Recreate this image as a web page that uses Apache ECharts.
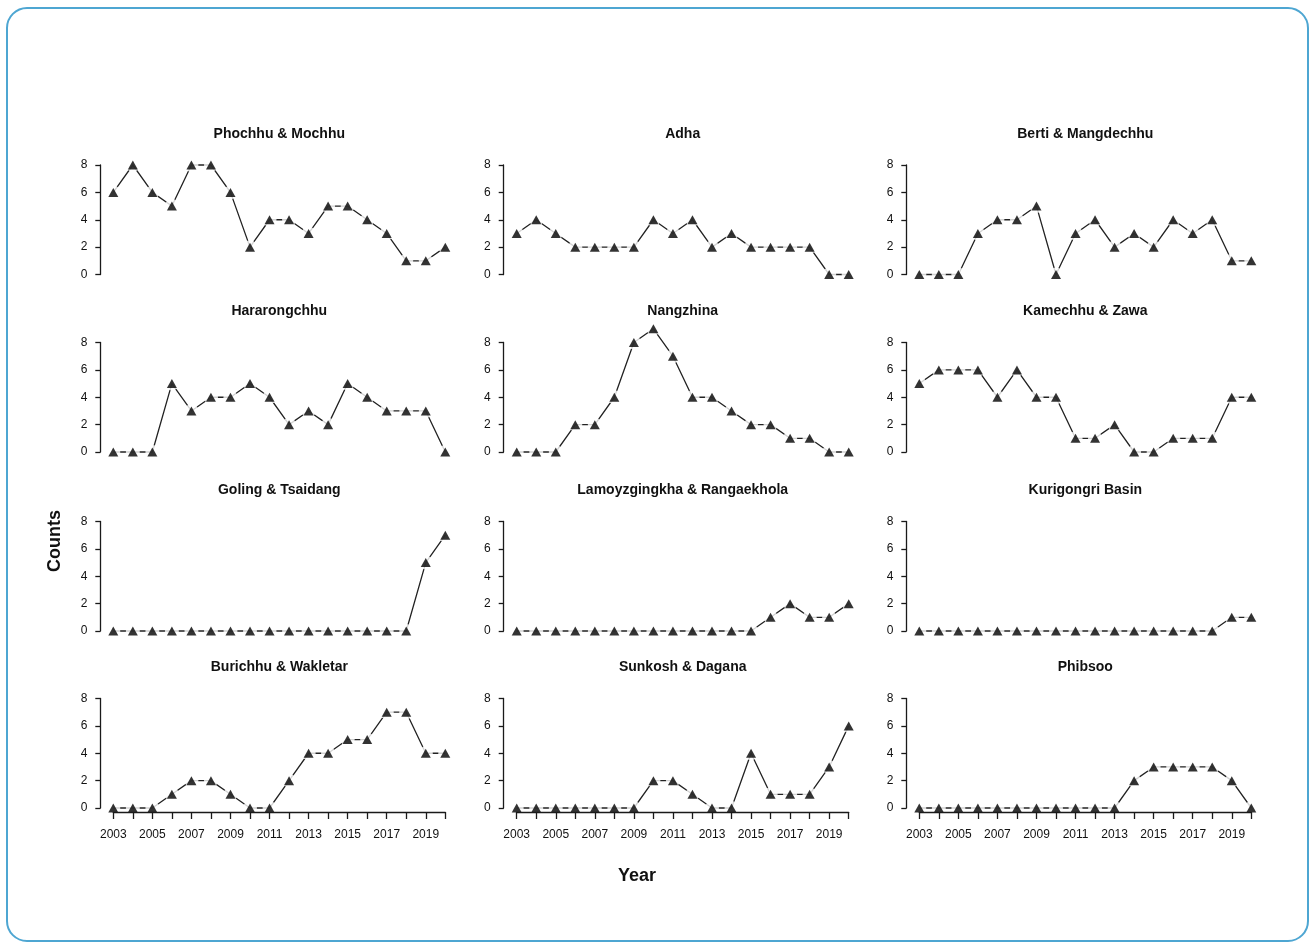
<!DOCTYPE html>
<html>
<head>
<meta charset="utf-8">
<script src="https://cdn.jsdelivr.net/npm/echarts@6/dist/echarts.min.js"></script>
<style>
html,body{margin:0;padding:0;background:#fff;}
#chart{width:1316px;height:949px;}
</style>
</head>
<body>
<div id="chart"></div>
<script>
// ---- Data ----
const years = [2003,2004,2005,2006,2007,2008,2009,2010,2011,2012,2013,2014,2015,2016,2017,2018,2019,2020];
const yTicks = [0,2,4,6,8];
const xLabelYears = [2003,2005,2007,2009,2011,2013,2015,2017,2019];

const phochhuMochhu   = [6,8,6,5,8,8,6,2,4,4,3,5,5,4,3,1,1,2];
const adha            = [3,4,3,2,2,2,2,4,3,4,2,3,2,2,2,2,0,0];
const bertiMangdechhu = [0,0,0,3,4,4,5,0,3,4,2,3,2,4,3,4,1,1];
const hararongchhu    = [0,0,0,5,3,4,4,5,4,2,3,2,5,4,3,3,3,0];
const nangzhina       = [0,0,0,2,2,4,8,9,7,4,4,3,2,2,1,1,0,0];
const kamechhuZawa    = [5,6,6,6,4,6,4,4,1,1,2,0,0,1,1,1,4,4];
const golingTsaidang  = [0,0,0,0,0,0,0,0,0,0,0,0,0,0,0,0,5,7];
const lamoyRangaekhola= [0,0,0,0,0,0,0,0,0,0,0,0,0,1,2,1,1,2];
const kurigongri      = [0,0,0,0,0,0,0,0,0,0,0,0,0,0,0,0,1,1];
const burichhuWakletar= [0,0,0,1,2,2,1,0,0,2,4,4,5,5,7,7,4,4];
const sunkoshDagana   = [0,0,0,0,0,0,0,2,2,1,0,0,4,1,1,1,3,6];
const phibsoo         = [0,0,0,0,0,0,0,0,0,0,0,2,3,3,3,3,2,0];

const panelTitles = ['Phochhu & Mochhu','Adha','Berti & Mangdechhu',
  'Hararongchhu','Nangzhina','Kamechhu & Zawa',
  'Goling & Tsaidang','Lamoyzgingkha & Rangaekhola','Kurigongri Basin',
  'Burichhu & Wakletar','Sunkosh & Dagana','Phibsoo'];
const panelData = [phochhuMochhu, adha, bertiMangdechhu,
  hararongchhu, nangzhina, kamechhuZawa,
  golingTsaidang, lamoyRangaekhola, kurigongri,
  burichhuWakletar, sunkoshDagana, phibsoo];

// ---- Layout ----
const colLeft = [113.3, 516.7, 919.3];
const plotW = 332;
const rowTop = [165, 342.5, 521.5, 698.5];
const plotH = 109.5;
const FONT = '"Liberation Sans", Arial, sans-serif';
const INK = '#1a1a1a';

const grids = [], xAxes = [], yAxes = [], series = [], graphics = [];

graphics.push({
  type:'rect', shape:{x:7,y:8,width:1301,height:933,r:20},
  style:{fill:'none', stroke:'#4ea6d2', lineWidth:2}, z:-1
});

panelData.forEach((vals, i) => {
  const r = Math.floor(i/3), c = i%3;
  const bottomRow = r === 3;
  grids.push({left: colLeft[c], top: rowTop[r], width: plotW, height: plotH, containLabel:false});
  xAxes.push({
    gridIndex:i, type:'value', min:years[0], max:years[years.length-1], interval:1,
    show: bottomRow, offset:4, z:6,
    axisLine:{show:true, onZero:false, lineStyle:{color:INK, width:1.3}},
    axisTick:{show:true, length:7, lineStyle:{color:INK, width:1.3}},
    splitLine:{show:false},
    axisLabel:{show:true, margin:17, color:'#111', fontFamily:FONT, fontSize:12,
      formatter: v => xLabelYears.indexOf(v) >= 0 ? String(v) : ''}
  });
  yAxes.push({
    gridIndex:i, type:'value', min:yTicks[0], max:yTicks[yTicks.length-1], interval:2,
    offset:13, z:6,
    axisLine:{show:true, lineStyle:{color:INK, width:1.3}},
    axisTick:{show:true, length:5, lineStyle:{color:INK, width:1.3}},
    splitLine:{show:false},
    axisLabel:{margin:13, color:'#111', fontFamily:FONT, fontSize:12}
  });
  const pts = years.map((y,k) => [y, vals[k]]);
  series.push({
    type:'line', xAxisIndex:i, yAxisIndex:i, data:pts, clip:false,
    showSymbol:false, symbol:'none', silent:true, animation:false, z:2,
    lineStyle:{color:'#222', width:1.3}
  });
  series.push({
    type:'scatter', xAxisIndex:i, yAxisIndex:i, data:pts, clip:false,
    symbol:'circle', symbolSize:14, silent:true, animation:false, z:3,
    itemStyle:{color:'#ffffff'}
  });
  series.push({
    type:'scatter', xAxisIndex:i, yAxisIndex:i, data:pts, clip:false,
    symbol:'triangle', symbolSize:[10,9], silent:true, animation:false, z:4,
    itemStyle:{color:'#000000'}
  });
  graphics.push({
    type:'text', x: colLeft[c] + plotW/2, y: rowTop[r] - 31,
    style:{text: panelTitles[i], fill:'#111', font:'bold 14px ' + FONT, align:'center', verticalAlign:'middle'}
  });
});

graphics.push({
  type:'text', x:637, y:876,
  style:{text:'Year', fill:'#111', font:'bold 18px ' + FONT, align:'center', verticalAlign:'middle'}
});
graphics.push({
  type:'text', x:55, y:541, rotation: Math.PI/2,
  style:{text:'Counts', fill:'#111', font:'bold 18px ' + FONT, align:'center', verticalAlign:'middle'}
});

const chart = echarts.init(document.getElementById('chart'), null, {renderer:'canvas'});
chart.setOption({
  animation:false,
  backgroundColor:'#ffffff',
  grid: grids, xAxis: xAxes, yAxis: yAxes, series: series,
  graphic: graphics
});
</script>
</body>
</html>
